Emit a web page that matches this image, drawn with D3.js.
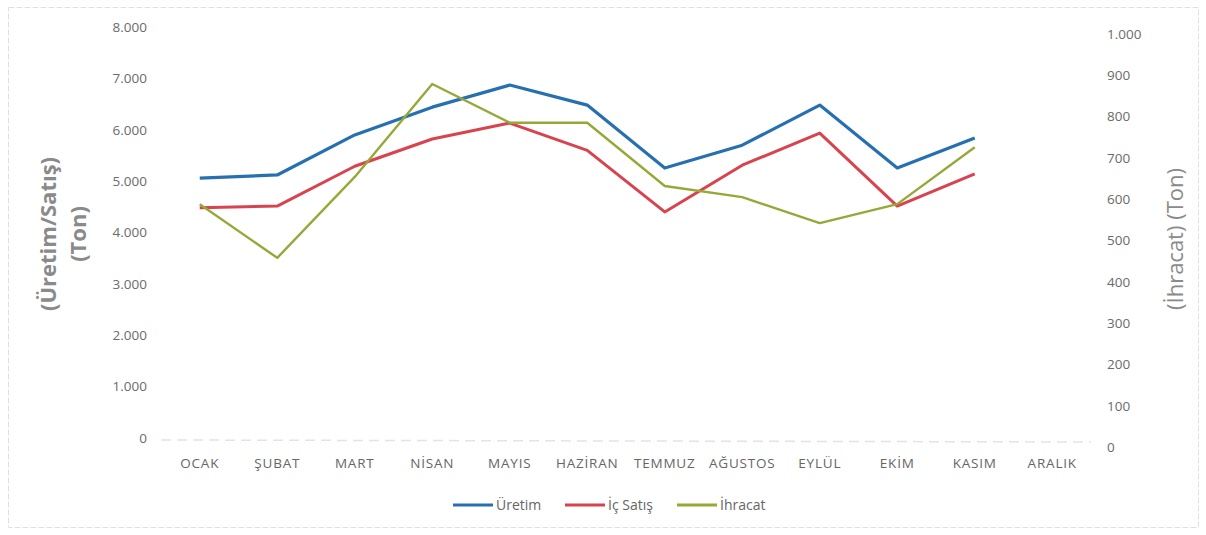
<!DOCTYPE html>
<html><head><meta charset="utf-8">
<script src="https://cdn.jsdelivr.net/npm/d3@7"></script>
<style>body{margin:0;background:#fff}svg{display:block}</style>
</head><body>
<script>
const months = ["OCAK","ŞUBAT","MART","NİSAN","MAYIS","HAZİRAN","TEMMUZ","AĞUSTOS","EYLÜL","EKİM","KASIM","ARALIK"];
const uretim = [5060,5120,5900,6440,6870,6480,5255,5700,6480,5255,5840,null];
const icSatis = [4480,4515,5290,5820,6130,5600,4400,5310,5935,4515,5140,null];
const ihracat = [588,458,654,879,785,785,632,605,542,588,726,null];
const leftTicks = [0,1000,2000,3000,4000,5000,6000,7000,8000];
const rightTicks = [0,100,200,300,400,500,600,700,800,900,1000];
const seriesNames = ["Üretim","İç Satış","İhracat"];
const seriesColors = ["#2670b0","#d8434e","#97a839"];

const W=1206,H=535;
const svg=d3.select("body").append("svg").attr("width",W).attr("height",H);
const font="'Open Sans', 'Noto Sans', sans-serif";
const fmt=d3.formatLocale({decimal:",",thousands:".",grouping:[3],currency:["",""]}).format(",d");

// frame
svg.append("rect").attr("x",8.5).attr("y",7.5).attr("width",1190).attr("height",520)
  .attr("fill","none").attr("stroke","#e0e0e0").attr("stroke-dasharray","6,2");

const x=d3.scaleBand().domain(months).range([161,1091]);
const yL=d3.scaleLinear().domain([0,8000]).range([438,27]);
const yR=d3.scaleLinear().domain([0,1000]).range([447,34]);

// baseline
svg.append("line").attr("x1",161).attr("x2",1091).attr("y1",440).attr("y2",442)
  .attr("stroke","#e4e4e4").attr("stroke-width",1.5).attr("stroke-dasharray","10,6");

const gL=svg.append("g").attr("transform","translate(149,0)")
  .call(d3.axisLeft(yL).tickValues(leftTicks).tickSize(0).tickPadding(2).tickFormat(fmt));
const gR=svg.append("g").attr("transform","translate(1105,0)")
  .call(d3.axisRight(yR).tickValues(rightTicks).tickSize(0).tickPadding(2).tickFormat(fmt));
[gL,gR].forEach(g=>{g.select(".domain").remove();
  g.selectAll("text").attr("font-family",font).attr("font-size",13.5).attr("fill","#6b6b6b");});

const gX=svg.append("g").attr("transform","translate(0,452)")
  .call(d3.axisBottom(x).tickSize(0).tickPadding(6));
gX.select(".domain").remove();
gX.selectAll("text").attr("font-family",font).attr("font-size",13.5).attr("fill","#666").attr("letter-spacing","0.8px");

// axis titles
const lt=svg.append("text").attr("transform","translate(66,234) rotate(-90)")
  .attr("text-anchor","middle").attr("font-family",font).attr("font-weight","bold")
  .attr("font-size",22).attr("fill","#8a8a8a");
lt.append("tspan").attr("x",0).attr("dy","-0.45em").text("(Üretim/Satış)");
lt.append("tspan").attr("x",0).attr("dy","1.35em").text("(Ton)");
svg.append("text").attr("transform","translate(1183,239) rotate(-90)")
  .attr("text-anchor","middle").attr("font-family",font)
  .attr("font-size",22).attr("fill","#8a8a8a").text("(İhracat) (Ton)");

const cx=m=>x(m)+x.bandwidth()/2;
const data=[uretim,icSatis,ihracat];
const scales=[yL,yL,yR];
const widths=[3.2,3,2.4];
data.forEach((vals,i)=>{
  const line=d3.line().defined(d=>d!=null).x((d,j)=>cx(months[j])).y(d=>scales[i](d));
  svg.append("path").attr("d",line(vals)).attr("fill","none")
    .attr("stroke",seriesColors[i]).attr("stroke-width",widths[i]).attr("stroke-linejoin","round");
});

// legend
const legX=[453,565,677];
seriesNames.forEach((n,i)=>{
  svg.append("line").attr("x1",legX[i]).attr("x2",legX[i]+40).attr("y1",505).attr("y2",505)
    .attr("stroke",seriesColors[i]).attr("stroke-width",3);
  svg.append("text").attr("x",legX[i]+43).attr("y",510).attr("font-family",font)
    .attr("font-size",14).attr("fill","#666").text(n);
});
</script>
</body></html>
